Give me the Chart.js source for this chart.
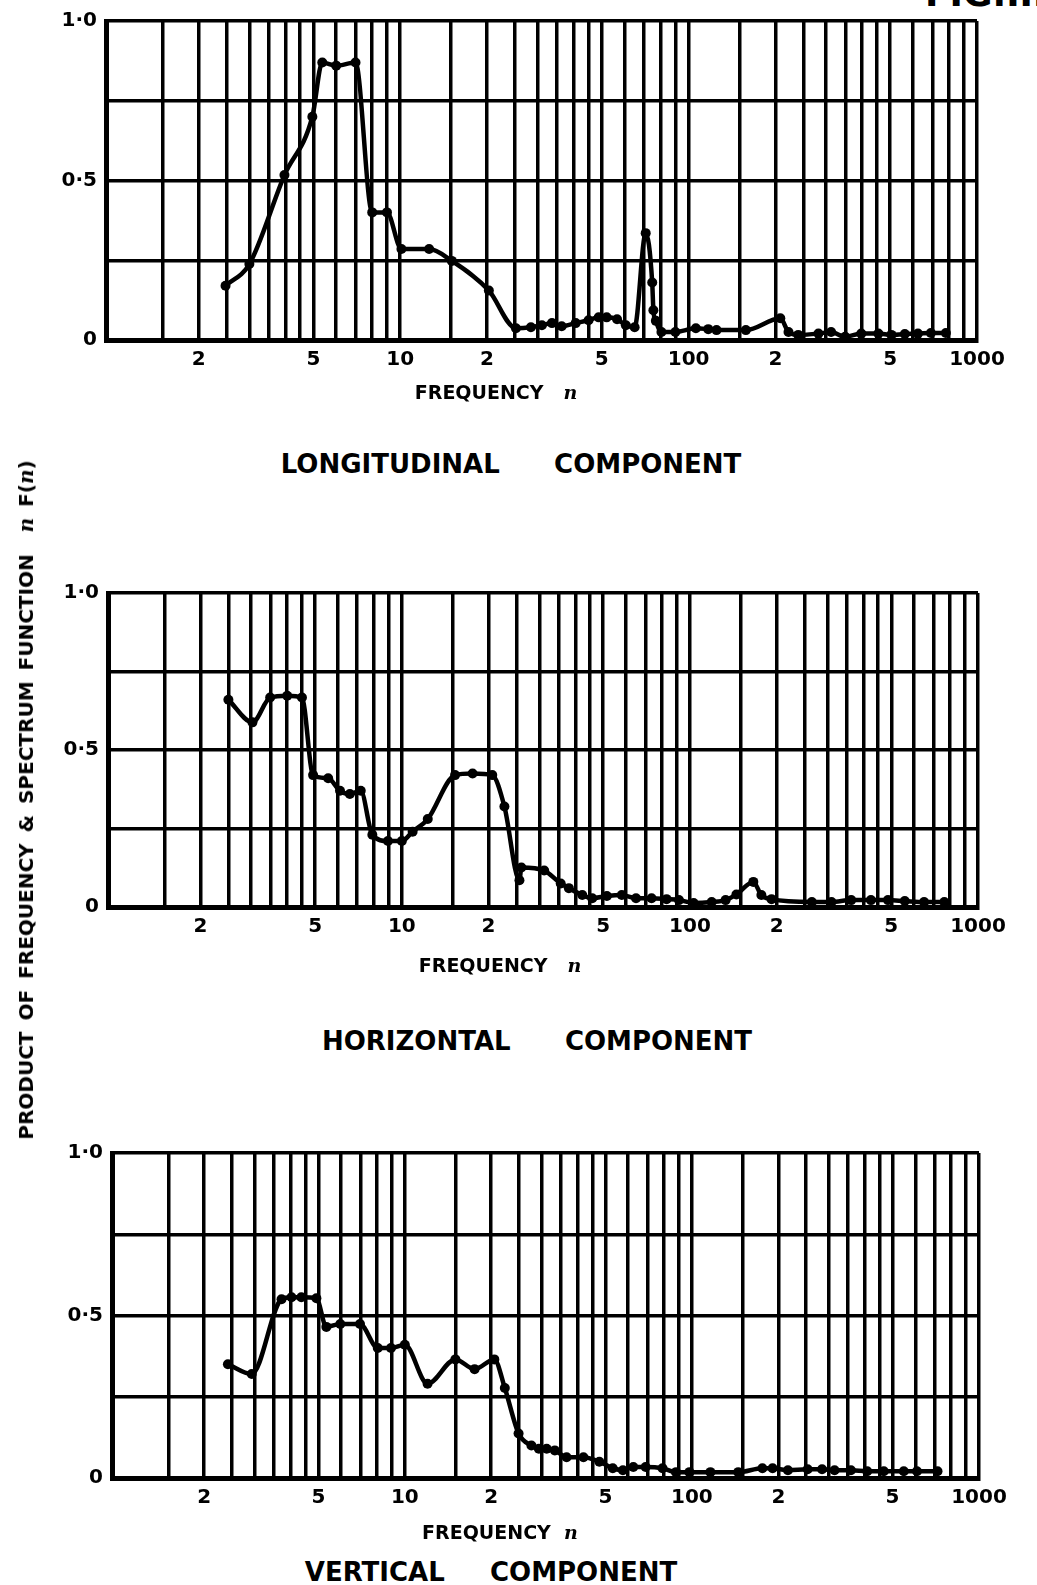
<!DOCTYPE html>
<html lang="en">
<head>
<meta charset="UTF-8">
<title>Spectrum function of the wind components</title>
<script src="https://cdn.jsdelivr.net/npm/chart.js"></script>
<style>
  body { margin: 0; background: #ffffff; }
  #page {
    position: relative; width: 1037px; height: 1585px; overflow: hidden;
    background: #ffffff; color: #000000;
    font-family: "DejaVu Sans", sans-serif; font-weight: bold;
  }
  canvas { position: absolute; left: 0; }
  .txt { position: absolute; white-space: pre; transform: translate(-50%, -50%); }
  .caption { font-size: 26px; line-height: 30px; }
  .xtitle { font-size: 19px; line-height: 24px; }
  .sym { font-family: "DejaVu Serif", serif; font-style: italic; }
  #yTitle { left: 26px; top: 800px; font-size: 20px; word-spacing: 4px;
            transform: translate(-50%, -50%) rotate(-90deg); }
  #fig { position: absolute; left: 925px; top: -24px; font-size: 36px; line-height: 36px; white-space: pre; }
</style>
</head>
<body>
<div id="page">
  <div id="fig">FIG.III</div>

  <canvas id="longChart" width="1037" height="404" style="top:0px"></canvas>
  <div class="txt xtitle" style="left:496px; top:392px">FREQUENCY   <span class="sym">n</span></div>
  <div class="txt caption" style="left:511px; top:464px">LONGITUDINAL      COMPONENT</div>

  <canvas id="horizChart" width="1037" height="405" style="top:572px"></canvas>
  <div class="txt xtitle" style="left:500px; top:965px">FREQUENCY   <span class="sym">n</span></div>
  <div class="txt caption" style="left:537px; top:1041px">HORIZONTAL      COMPONENT</div>

  <canvas id="vertChart" width="1037" height="413" style="top:1132px"></canvas>
  <div class="txt xtitle" style="left:500px; top:1532px">FREQUENCY  <span class="sym">n</span></div>
  <div class="txt caption" style="left:491px; top:1572px">VERTICAL     COMPONENT</div>

  <div id="yTitle" class="txt">PRODUCT OF FREQUENCY &amp; SPECTRUM FUNCTION  <span class="sym">n</span> F(<span class="sym">n</span>)</div>
</div>

<script>
// Log-frequency grid and the labelled positions along it
const xGridValues = [1.5, 2, 2.5, 3, 3.5, 4, 4.5, 5, 6, 7, 8, 9, 10,
                     15, 20, 25, 30, 35, 40, 45, 50, 60, 70, 80, 90, 100,
                     150, 200, 250, 300, 350, 400, 450, 500, 600, 700, 800, 900, 1000];
const xLabelValues = [2, 5, 10, 20, 50, 100, 200, 500, 1000];
const xLabelTexts  = ['2', '5', '10', '2', '5', '100', '2', '5', '1000'];
const yLabelValues = [0, 0.5, 1];
const yLabelTexts  = ['0', '0·5', '1·0'];

// Longitudinal component
const longFreq  = [2.48, 3.0, 3.97, 4.96, 5.37, 6.0, 7.0, 8.0, 9.0, 10.1, 12.6, 15.1, 20.3,
                   25.2, 28.4, 31, 33.6, 36.3, 40.6, 45, 48.8, 52, 56.5, 60.6, 65, 71, 74.8, 75.5, 77,
                   80.5, 90, 106, 117, 125, 158, 208, 222, 240, 282, 312, 349, 397, 455, 505, 562, 624, 692, 780];
const longValue = [0.17, 0.238, 0.517, 0.70, 0.87, 0.86, 0.87, 0.40, 0.40, 0.285, 0.285, 0.248, 0.155,
                   0.037, 0.04, 0.046, 0.053, 0.043, 0.053, 0.062, 0.071, 0.071, 0.065, 0.046, 0.04, 0.335, 0.18, 0.093, 0.06,
                   0.025, 0.025, 0.037, 0.034, 0.031, 0.031, 0.068, 0.025, 0.016, 0.02, 0.025, 0.01, 0.02, 0.02, 0.016, 0.019, 0.02, 0.022, 0.022];

// Horizontal component
const horizFreq  = [2.5, 3.03, 3.49, 4.0, 4.5, 4.92, 5.55, 6.1, 6.6, 7.2, 7.9, 8.95, 10, 10.9, 12.3,
                    15.3, 17.6, 20.6, 22.7, 25.6, 26.0, 31.2, 35.6, 38, 42.3, 45.8, 51.5, 58, 65, 73.6,
                    83, 91.6, 103, 119, 133, 145, 166, 177, 192, 265, 310, 363, 425, 487, 557, 650, 764];
const horizValue = [0.66, 0.588, 0.667, 0.673, 0.667, 0.42, 0.41, 0.37, 0.36, 0.37, 0.23, 0.21, 0.21, 0.24, 0.28,
                    0.42, 0.425, 0.42, 0.32, 0.085, 0.126, 0.116, 0.075, 0.06, 0.038, 0.028, 0.035, 0.038, 0.028, 0.028,
                    0.025, 0.022, 0.013, 0.016, 0.022, 0.04, 0.08, 0.038, 0.025, 0.016, 0.016, 0.022, 0.022, 0.022, 0.019, 0.016, 0.016];

// Vertical component
const vertFreq  = [2.42, 2.93, 3.72, 4.03, 4.36, 4.92, 5.33, 5.96, 6.98, 8.05, 8.95, 10, 12.0, 15.0, 17.5,
                   20.5, 22.3, 24.9, 27.6, 29.3, 31.2, 33.3, 36.6, 41.9, 47.6, 53, 57.5, 62.5, 69, 79,
                   88, 98, 116, 145, 176, 191, 216, 253, 284, 314, 358, 408, 466, 547, 608, 717];
const vertValue = [0.35, 0.32, 0.55, 0.556, 0.556, 0.553, 0.465, 0.474, 0.474, 0.40, 0.40, 0.41, 0.29, 0.365, 0.335,
                   0.365, 0.277, 0.137, 0.10, 0.09, 0.09, 0.085, 0.064, 0.064, 0.05, 0.03, 0.024, 0.034, 0.034, 0.03,
                   0.018, 0.018, 0.018, 0.018, 0.03, 0.03, 0.024, 0.027, 0.027, 0.024, 0.024, 0.021, 0.021, 0.021, 0.021, 0.021];

const tickFont = { family: '"DejaVu Sans", sans-serif', weight: 'bold', size: 20 };

function labelFor(values, texts, v) {
  const i = values.findIndex(x => Math.abs(x - v) < 1e-9);
  return i >= 0 ? texts[i] : '';
}

function spectrumChart(id, freq, value, yAxisWidth, xAxisHeight, rightPad) {
  const points = freq.map((f, i) => ({ x: f, y: value[i] }));
  return new Chart(document.getElementById(id), {
    type: 'line',
    data: {
      datasets: [{
        data: points,
        borderColor: '#000000',
        backgroundColor: '#000000',
        borderWidth: 4.5,
        pointRadius: 5,
        pointBorderWidth: 0,
        cubicInterpolationMode: 'monotone',
        fill: false
      }]
    },
    options: {
      responsive: false,
      animation: false,
      events: [],
      layout: { autoPadding: false, padding: { top: 17, right: rightPad, bottom: 0, left: 0 } },
      plugins: { legend: { display: false }, tooltip: { enabled: false } },
      scales: {
        x: {
          type: 'logarithmic',
          min: 0.955,
          max: 1000,
          afterBuildTicks: s => { s.ticks = xGridValues.map(v => ({ value: v })); },
          afterFit: s => { s.height = xAxisHeight; },
          grid: { color: '#000000', lineWidth: 3.5, drawTicks: false },
          border: { color: '#000000', width: 5 },
          ticks: {
            autoSkip: false, maxRotation: 0, padding: 8, color: '#000000', font: tickFont,
            callback: v => labelFor(xLabelValues, xLabelTexts, v)
          }
        },
        y: {
          min: 0,
          max: 1,
          afterFit: s => { s.width = yAxisWidth; },
          grid: { color: '#000000', lineWidth: 3.5, drawTicks: false },
          border: { color: '#000000', width: 5 },
          ticks: {
            stepSize: 0.25, padding: 9, color: '#000000', font: tickFont,
            callback: v => labelFor(yLabelValues, yLabelTexts, v)
          }
        }
      }
    }
  });
}

spectrumChart('longChart', longFreq, longValue, 106, 64, 60);
spectrumChart('horizChart', horizFreq, horizValue, 108, 70, 59);
spectrumChart('vertChart', vertFreq, vertValue, 112, 67, 58);
</script>
</body>
</html>
